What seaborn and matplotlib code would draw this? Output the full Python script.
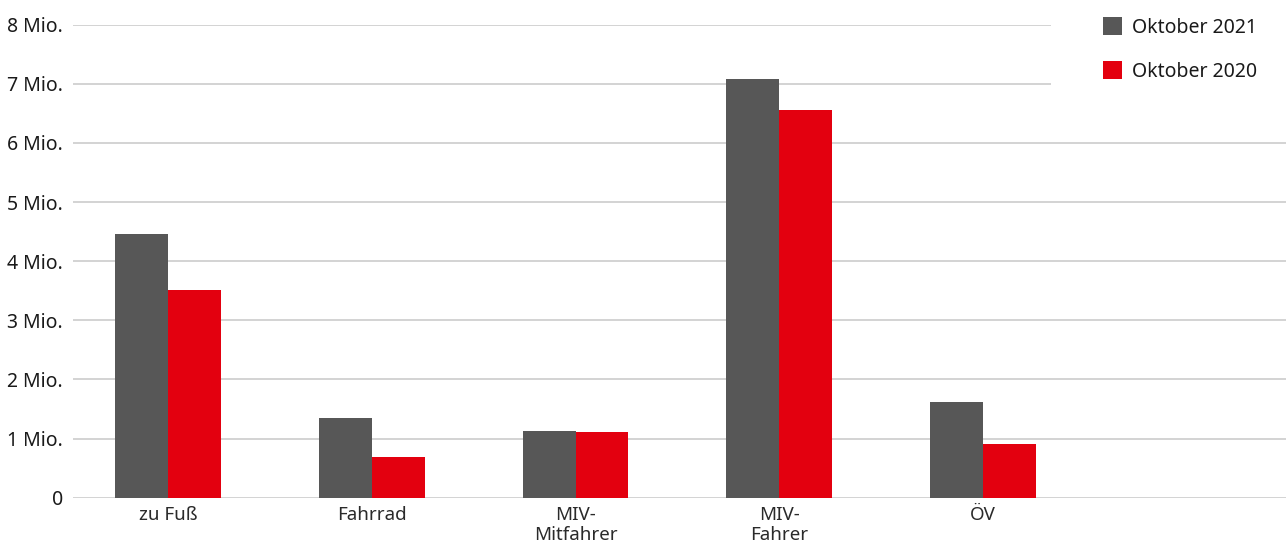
import matplotlib
matplotlib.use("Agg")
import matplotlib.pyplot as plt
from matplotlib.patches import Patch
import seaborn as sns
import pandas as pd

# Wege pro Tag nach Verkehrsmittel (in Mio.)
categories = ["zu Fuß", "Fahrrad", "MIV-\nMitfahrer", "MIV-\nFahrer", "ÖV"]
series_names = ["Oktober 2021", "Oktober 2020"]
oktober_2021 = [4.46, 1.35, 1.13, 7.08, 1.62]
oktober_2020 = [3.51, 0.69, 1.11, 6.56, 0.91]
y_ticks = [0, 1, 2, 3, 4, 5, 6, 7, 8]
y_tick_labels = ["0", "1 Mio.", "2 Mio.", "3 Mio.", "4 Mio.", "5 Mio.",
                 "6 Mio.", "7 Mio.", "8 Mio."]
colors = ["#575757", "#e3000f"]

df = pd.DataFrame({
    "Kategorie": categories * 2,
    "Zeitraum": [series_names[0]] * len(categories) + [series_names[1]] * len(categories),
    "Wege": oktober_2021 + oktober_2020,
})

sns.set_theme(style="white")
plt.rcParams["font.family"] = ["Noto Sans", "DejaVu Sans"]

fig = plt.figure(figsize=(12.86, 5.49), dpi=100)
ax = fig.add_axes([0.0565, 0.0934, 0.9435, 0.8616])

sns.barplot(data=df, x="Kategorie", y="Wege", hue="Zeitraum",
            order=categories, hue_order=series_names, palette=colors,
            width=0.52, saturation=1, linewidth=0, ax=ax, legend=False)

ax.set_ylim(0, 8)
ax.set_xlim(-0.468, 5.487)
ax.set_yticks(y_ticks)
ax.set_yticklabels(y_tick_labels, fontsize=14, color="#1a1a1a")
ax.set_xticks(range(len(categories)))
ax.set_xticklabels(categories, fontsize=13.5, color="#2a2a2a", linespacing=1.15)
ax.set_xlabel("")
ax.set_ylabel("")
ax.tick_params(axis="y", length=0, pad=7)
ax.tick_params(axis="x", length=0, pad=6)

ax.yaxis.grid(True, color="#d0d0d0", linewidth=1.3)
ax.set_axisbelow(True)
for s in ax.spines.values():
    s.set_visible(False)

# Legend with a wide white frame that runs past the figure edge
handles = [Patch(facecolor=c, edgecolor="none", label=n) for c, n in zip(colors, series_names)]
leg = fig.legend(handles=handles, loc="upper right", bbox_to_anchor=(1.0175, 1.062),
                 bbox_transform=fig.transFigure, fontsize=14,
                 frameon=True, facecolor="white", edgecolor="none", framealpha=1,
                 borderpad=2.65, handlelength=1.0, handleheight=1.0,
                 handletextpad=0.5, labelspacing=1.2, borderaxespad=0.0)
for t in leg.get_texts():
    t.set_color("#1a1a1a")

fig.savefig("out.png", dpi=100, facecolor="white")
